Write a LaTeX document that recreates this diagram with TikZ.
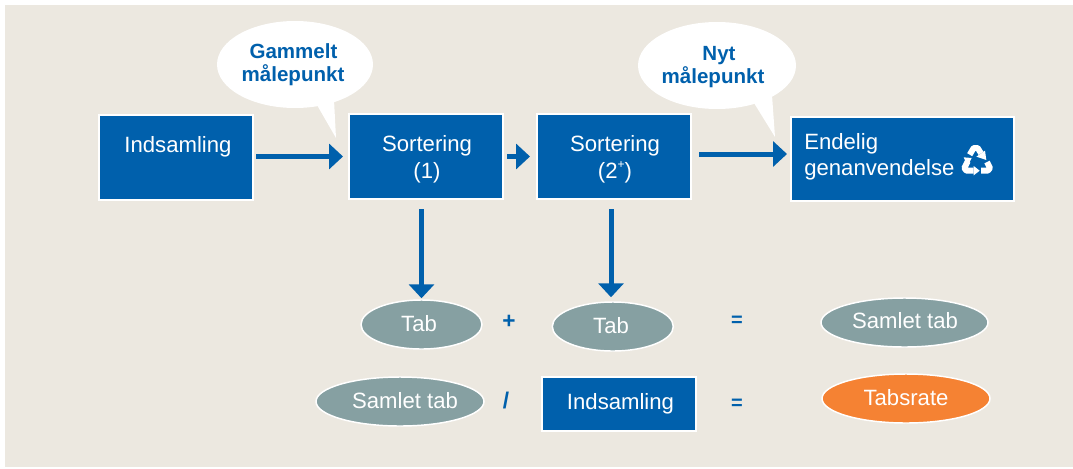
\documentclass[tikz,border=0pt]{standalone}
\usepackage{fontspec}
\setmainfont{Liberation Sans}
\usetikzlibrary{arrows.meta,shapes.geometric}
\definecolor{bluemain}{HTML}{0060AC}
\definecolor{beige}{HTML}{ECE8E0}
\definecolor{greyteal}{HTML}{86A0A2}
\definecolor{orangemain}{HTML}{F58233}
\tikzset{
  x=0.75pt,y=-0.75pt,
  boxnode/.style={rectangle,fill=bluemain,draw=white,line width=1.5pt,inner sep=0pt},
  ovalnode/.style={ellipse,draw=white,line width=1.1pt,inner sep=0pt},
  bubble/.style={ellipse,fill=white,inner sep=0pt},
  flow/.style={draw=bluemain,line width=3.75pt,-{Triangle[length=10.5pt,width=18.75pt]}},
  whitetext/.style={text=white,font=\fontsize{16.6}{19}\selectfont,anchor=base,inner sep=0pt},
  bluetext/.style={text=bluemain,font=\fontsize{15.4}{18}\selectfont\bfseries,anchor=base,inner sep=0pt},
  optext/.style={text=bluemain,font=\fontsize{17}{19}\selectfont\bfseries,inner sep=0pt},
  eqtext/.style={text=bluemain,font=\fontsize{15}{19}\selectfont\bfseries,inner sep=0pt},
  iconstroke/.style={draw=white,line width=4.4pt,line join=round,line cap=butt}
}
\begin{document}
\begin{tikzpicture}
\useasboundingbox (0,0) rectangle (1073,468);
\fill[white] (0,0) rectangle (1073,468);
\fill[beige] (5,5) rectangle (1073,467);

% bubbles
\node[bubble,minimum width=156*0.75pt,minimum height=87*0.75pt] (bub1) at (295,64.5) {};
\coordinate (tip1) at (336,138);
\fill[white] (317,105) -- (tip1) -- (334,100) -- cycle;
\node[bubble,minimum width=158*0.75pt,minimum height=87*0.75pt] (bub2) at (717,65.5) {};
\coordinate (tip2) at (775,137);
\fill[white] (754,103) -- (tip2) -- (772,95) -- cycle;
\node[bluetext] (b1a) at (293.5,58) {Gammelt};
\node[bluetext] (b1b) at (293,81) {målepunkt};
\node[bluetext] (b2a) at (719,60) {Nyt};
\node[bluetext] (b2b) at (713,83) {målepunkt};

% boxes
\node[boxnode,minimum width=115.5pt,minimum height=63.75pt] (ind) at (176,157.5) {};
\node[boxnode,minimum width=115.5pt,minimum height=63.75pt] (sort1) at (426,156.5) {};
\node[boxnode,minimum width=115.5pt,minimum height=63.75pt] (sort2) at (614,156.5) {};
\node[boxnode,minimum width=167.25pt,minimum height=63pt] (final) at (902.5,159) {};
\node[boxnode,minimum width=115.5pt,minimum height=40.5pt] (ind2) at (619,404) {};

\node[whitetext] (t1) at (178,152) {Indsamling};
\node[whitetext] (t2) at (427,151) {Sortering};
\node[whitetext] (t3) at (427,178) {(1)};
\node[whitetext] (t4) at (615,151) {Sortering};
\node[whitetext] (t5) at (615,178) {(2\raisebox{0.45em}{\fontsize{9}{9}\selectfont +})};
\node[whitetext,anchor=base west] (t6) at (804,149) {Endelig};
\node[whitetext,anchor=base west] (t7) at (804,175) {genanvendelse};
\node[whitetext] (t8) at (620.5,409) {Indsamling};

% recycling icon
\begin{scope}[shift={(955,138)},x=0.25pt,y=-0.25pt]
  \draw[iconstroke] (44,50) -- (56,30) -- (68,30) -- (78,46);
  \fill[white] (94,66) -- (64,56) -- (90,38) -- cycle;
  \draw[iconstroke] (96,72) -- (105,90) -- (99,98) -- (78,98);
  \draw[iconstroke] (38,70) -- (28,90) -- (34,98) -- (56,98);
  \fill[white] (74,98) -- (56,84) -- (56,112) -- cycle;
  \fill[white] (26,58) -- (50,60) -- (38,84) -- cycle;
\end{scope}

% ellipses
\node[ovalnode,fill=greyteal,minimum width=90.75pt,minimum height=36.75pt] (tab1) at (421.5,324.5) {};
\node[ovalnode,fill=greyteal,minimum width=90.75pt,minimum height=36.75pt] (tab2) at (612.8,326.5) {};
\node[ovalnode,fill=greyteal,minimum width=125.25pt,minimum height=36.75pt] (sam1) at (904.5,322.5) {};
\node[ovalnode,fill=greyteal,minimum width=126pt,minimum height=36.75pt] (sam2) at (400,401.5) {};
\node[ovalnode,fill=orangemain,minimum width=126pt,minimum height=36.75pt] (rate) at (906,398.5) {};

\node[whitetext] (t9) at (419,331) {Tab};
\node[whitetext] (t10) at (611,333) {Tab};
\node[whitetext] (t11) at (905,328) {Samlet tab};
\node[whitetext] (t12) at (405,408) {Samlet tab};
\node[whitetext] (t13) at (906,405) {Tabsrate};

\node[optext] (op1) at (509,322) {+};
\node[eqtext] (op2) at (737,321) {=};
\node[optext] (op3) at (506,401) {/};
\node[eqtext] (op4) at (737,404) {=};

% connectors
\coordinate (a3) at (791,154);
\draw[flow,shorten <=1.5pt,shorten >=3.75pt] (ind.east |- sort1.west) -- (sort1.west);
\draw[flow,shorten <=2.25pt,shorten >=4.5pt] (sort1.east) -- (sort2.west);
\draw[flow,shorten <=5.25pt,shorten >=3pt] (sort2.east |- a3) -- (a3);
\draw[flow,shorten <=6.75pt,shorten >=0.75pt] (sort1.south -| tab1.north) -- (tab1.north);
\draw[flow,shorten <=6.75pt,shorten >=3pt] ([xshift=-1.35pt]sort2.south -| tab2.north) -- ([xshift=-1.35pt]tab2.north);
\end{tikzpicture}
\end{document}
